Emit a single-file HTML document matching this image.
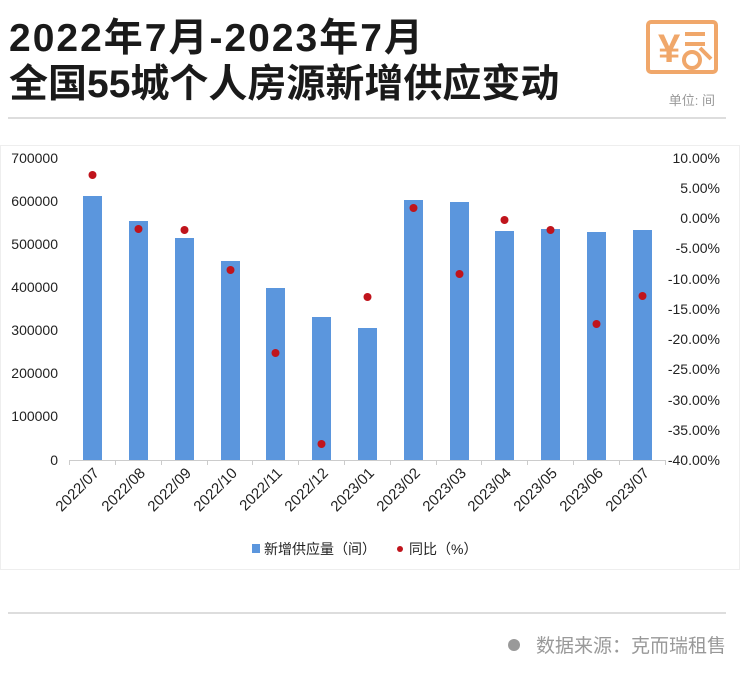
<!DOCTYPE html>
<html><head><meta charset="utf-8"><style>
body{margin:0;width:740px;height:674px;background:#fff;font-family:"Liberation Sans","Noto Sans CJK SC",sans-serif;overflow:hidden;position:relative}
.t{position:absolute;left:9px;font-size:39px;font-weight:bold;color:#1a1a1a;line-height:44px;white-space:nowrap}
</style></head><body>
<div class="t" style="top:17px;letter-spacing:2px">2022年7月-2023年7月</div>
<div class="t" style="top:63px">全国55城个人房源新增供应变动</div>
<svg style="position:absolute;left:0;top:0" width="740" height="674">
<g fill="none" stroke="#f0a76a" stroke-width="4">
<rect x="648" y="22" width="68" height="50" rx="3"/>
<line x1="700" y1="48" x2="711" y2="59"/>
<circle cx="692" cy="60" r="8"/>
</g>
<text x="658" y="62" font-size="40" fill="#f0a76a" font-weight="bold" font-family="Liberation Sans,Noto Sans CJK SC,sans-serif">¥</text>
<g stroke="#f0a76a" stroke-width="4"><line x1="685" y1="34" x2="705" y2="34"/><line x1="685" y1="44" x2="705" y2="44"/></g>
<text x="715" y="105" font-size="13" fill="#999" text-anchor="end" font-family="Liberation Sans,Noto Sans CJK SC,sans-serif">单位: 间</text>
<line x1="8" y1="118" x2="726" y2="118" stroke="#bbb" stroke-width="1"/>
<rect x="0.5" y="145.5" width="739" height="424" fill="none" stroke="#eee"/>
<g font-size="14" fill="#222" font-family="Liberation Sans,sans-serif" text-anchor="end">
<text x="58" y="163">700000</text><text x="58" y="206">600000</text><text x="58" y="249">500000</text><text x="58" y="292">400000</text><text x="58" y="335">300000</text><text x="58" y="378">200000</text><text x="58" y="421">100000</text><text x="58" y="465">0</text>
</g>
<g font-size="14" fill="#222" font-family="Liberation Sans,sans-serif" text-anchor="end">
<text x="720" y="163">10.00%</text><text x="720" y="193">5.00%</text><text x="720" y="223">0.00%</text><text x="720" y="253">-5.00%</text><text x="720" y="284">-10.00%</text><text x="720" y="314">-15.00%</text><text x="720" y="344">-20.00%</text><text x="720" y="374">-25.00%</text><text x="720" y="405">-30.00%</text><text x="720" y="435">-35.00%</text><text x="720" y="465">-40.00%</text>
</g>
<g fill="#5b96dd">
<rect x="83" y="196" width="19" height="264"/>
<rect x="129" y="221" width="19" height="239"/>
<rect x="175" y="238" width="19" height="222"/>
<rect x="221" y="261" width="19" height="199"/>
<rect x="266" y="288" width="19" height="172"/>
<rect x="312" y="317" width="19" height="143"/>
<rect x="358" y="328" width="19" height="132"/>
<rect x="404" y="200" width="19" height="260"/>
<rect x="450" y="202" width="19" height="258"/>
<rect x="495" y="231" width="19" height="229"/>
<rect x="541" y="229" width="19" height="231"/>
<rect x="587" y="232" width="19" height="228"/>
<rect x="633" y="230" width="19" height="230"/>
</g>
<line x1="69" y1="460.5" x2="665" y2="460.5" stroke="#ccc"/>
<g stroke="#ccc"><line x1="69.5" y1="460" x2="69.5" y2="465"/><line x1="115.5" y1="460" x2="115.5" y2="465"/><line x1="161.5" y1="460" x2="161.5" y2="465"/><line x1="207.5" y1="460" x2="207.5" y2="465"/><line x1="252.5" y1="460" x2="252.5" y2="465"/><line x1="298.5" y1="460" x2="298.5" y2="465"/><line x1="344.5" y1="460" x2="344.5" y2="465"/><line x1="390.5" y1="460" x2="390.5" y2="465"/><line x1="436.5" y1="460" x2="436.5" y2="465"/><line x1="481.5" y1="460" x2="481.5" y2="465"/><line x1="527.5" y1="460" x2="527.5" y2="465"/><line x1="573.5" y1="460" x2="573.5" y2="465"/><line x1="619.5" y1="460" x2="619.5" y2="465"/><line x1="665.5" y1="460" x2="665.5" y2="465"/></g>
<g fill="#c0141c">
<circle cx="92.5" cy="175" r="4"/><circle cx="138.5" cy="229" r="4"/><circle cx="184.5" cy="230" r="4"/><circle cx="230.5" cy="270" r="4"/><circle cx="275.5" cy="353" r="4"/><circle cx="321.5" cy="444" r="4"/><circle cx="367.5" cy="297" r="4"/><circle cx="413.5" cy="208" r="4"/><circle cx="459.5" cy="274" r="4"/><circle cx="504.5" cy="220" r="4"/><circle cx="550.5" cy="230" r="4"/><circle cx="596.5" cy="324" r="4"/><circle cx="642.5" cy="296" r="4"/>
</g>
<g font-size="15" fill="#222" font-family="Liberation Sans,sans-serif" text-anchor="end">
<text transform="translate(100,474) rotate(-45)">2022/07</text>
<text transform="translate(146,474) rotate(-45)">2022/08</text>
<text transform="translate(192,474) rotate(-45)">2022/09</text>
<text transform="translate(238,474) rotate(-45)">2022/10</text>
<text transform="translate(283,474) rotate(-45)">2022/11</text>
<text transform="translate(329,474) rotate(-45)">2022/12</text>
<text transform="translate(375,474) rotate(-45)">2023/01</text>
<text transform="translate(421,474) rotate(-45)">2023/02</text>
<text transform="translate(467,474) rotate(-45)">2023/03</text>
<text transform="translate(512,474) rotate(-45)">2023/04</text>
<text transform="translate(558,474) rotate(-45)">2023/05</text>
<text transform="translate(604,474) rotate(-45)">2023/06</text>
<text transform="translate(650,474) rotate(-45)">2023/07</text>
</g>
<rect x="252" y="544" width="8" height="9" fill="#5b96dd"/>
<text x="264" y="554" font-size="14" fill="#222" font-family="Liberation Sans,Noto Sans CJK SC,sans-serif">新增供应量（间）</text>
<circle cx="400" cy="549" r="3" fill="#c0141c"/>
<text x="409" y="554" font-size="14" fill="#222" font-family="Liberation Sans,Noto Sans CJK SC,sans-serif">同比（%）</text>
<line x1="8" y1="613" x2="726" y2="613" stroke="#bbb"/>
<circle cx="514" cy="645" r="6" fill="#999"/>
<text x="726" y="652" font-size="19" fill="#999" text-anchor="end" font-family="Liberation Sans,Noto Sans CJK SC,sans-serif">数据来源：克而瑞租售</text>
</svg>
</body></html>
